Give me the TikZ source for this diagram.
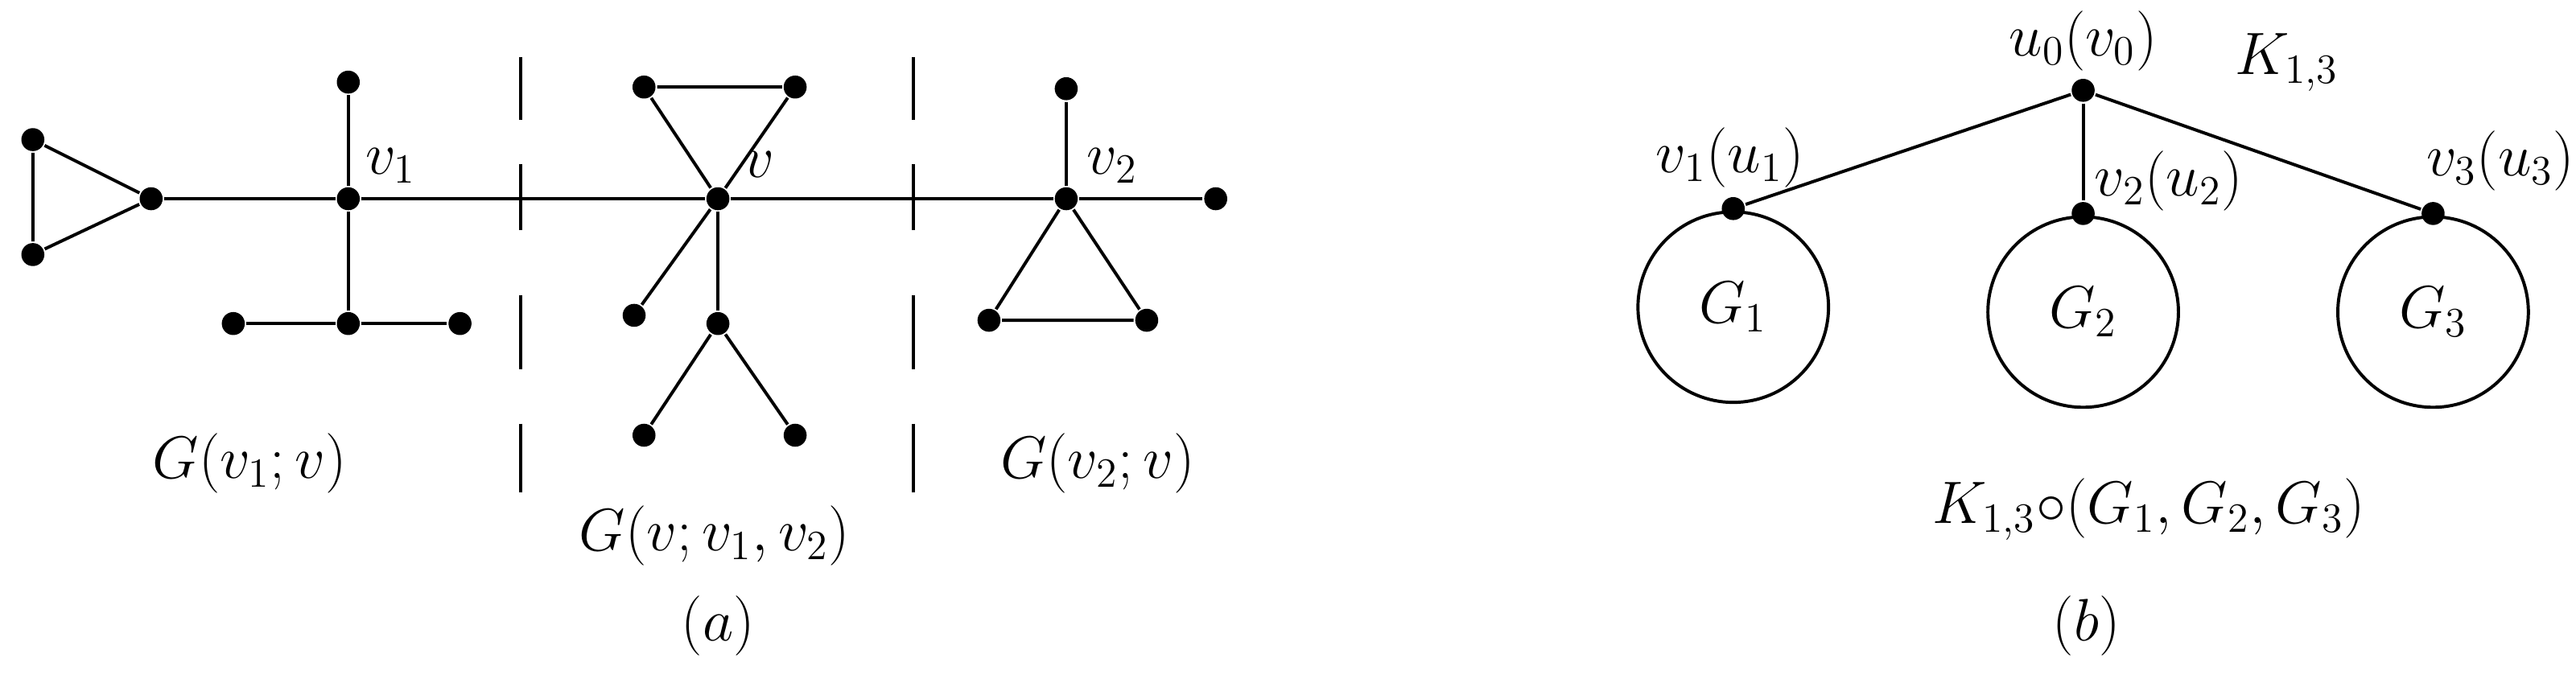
\documentclass[tikz,border=0pt]{standalone}
\begin{document}
\begin{tikzpicture}[x=0.02cm,y=-0.02cm,line width=1.1pt,
 dot/.style={circle,fill=black,inner sep=0pt,minimum size=0.28cm},
 lbl/.style={font=\fontsize{20}{24}\selectfont},
 dsh/.style={line width=1pt}]
\useasboundingbox (0,0) rectangle (1568,413);
% part a
\node[dot] (t1) at (20,85) {};
\node[dot] (t2) at (20,155) {};
\node[dot] (t3) at (92,121) {};
\node[dot] (v1) at (212,121) {};
\node[dot] (v1t) at (212,50) {};
\node[dot] (v1b) at (212,197) {};
\node[dot] (v1l) at (142,197) {};
\node[dot] (v1r) at (280,197) {};
\node[dot] (v) at (437,121) {};
\node[dot] (va) at (392,53) {};
\node[dot] (vb) at (484,53) {};
\node[dot] (vc) at (386,192) {};
\node[dot] (vd) at (437,197) {};
\node[dot] (ve) at (392,265) {};
\node[dot] (vf) at (484,265) {};
\node[dot] (v2) at (649,121) {};
\node[dot] (v2t) at (649,54) {};
\node[dot] (v2l) at (602,195) {};
\node[dot] (v2r) at (698,195) {};
\node[dot] (re) at (740,121) {};
\draw (t1)--(t2)--(t3)--(t1);
\draw (t3)--(v1)--(v)--(v2)--(re);
\draw (v1t)--(v1)--(v1b); \draw (v1l)--(v1b)--(v1r);
\draw (v)--(va)--(vb)--(v); \draw (v)--(vc); \draw (v)--(vd); \draw (ve)--(vd)--(vf);
\draw (v2t)--(v2); \draw (v2)--(v2l)--(v2r)--(v2);
\foreach \x in {317,556}{
 \foreach \a/\b in {35/73,100/140,180/225,258/300}{\draw[dsh] (\x,\a)--(\x,\b);}}
\node[lbl] (lv1) at (238,101) {$v_1$};
\node[lbl] (lv) at (462,100) {$v$};
\node[lbl] (lv2) at (677,101) {$v_2$};
\node[lbl] (g1) at (152,282) {$G(v_1;v)$};
\node[lbl] (g2) at (435,326) {$G(v;v_1,v_2)$};
\node[lbl] (g3) at (668,282) {$G(v_2;v)$};
\node[lbl] (la) at (437,381) {$(a)$};
% part b
\node[dot] (u0) at (1268,55) {};
\node[dot] (b1) at (1055,127) {};
\node[dot] (b2) at (1268,130) {};
\node[dot] (b3) at (1481,130) {};
\draw (u0)--(b1); \draw (u0)--(b2); \draw (u0)--(b3);
\node[circle,draw,minimum size=2.32cm,inner sep=0pt,lbl] (c1) at (1055,187) {$G_1$};
\node[circle,draw,minimum size=2.32cm,inner sep=0pt,lbl] (c2) at (1268,190) {$G_2$};
\node[circle,draw,minimum size=2.32cm,inner sep=0pt,lbl] (c3) at (1481,190) {$G_3$};
\node[lbl] (lu0) at (1268,25) {$u_0(v_0)$};
\node[lbl] (lk) at (1392,38) {$K_{1,3}$};
\node[lbl] (lb1) at (1053,96) {$v_1(u_1)$};
\node[lbl] (lb2) at (1320,110) {$v_2(u_2)$};
\node[lbl] (lb3) at (1522,98) {$v_3(u_3)$};
\node[lbl] (lk2) at (1308,310) {$K_{1,3}{\circ}(G_1,G_2,G_3)$};
\node[lbl] (lb) at (1270,381) {$(b)$};
\end{tikzpicture}
\end{document}
